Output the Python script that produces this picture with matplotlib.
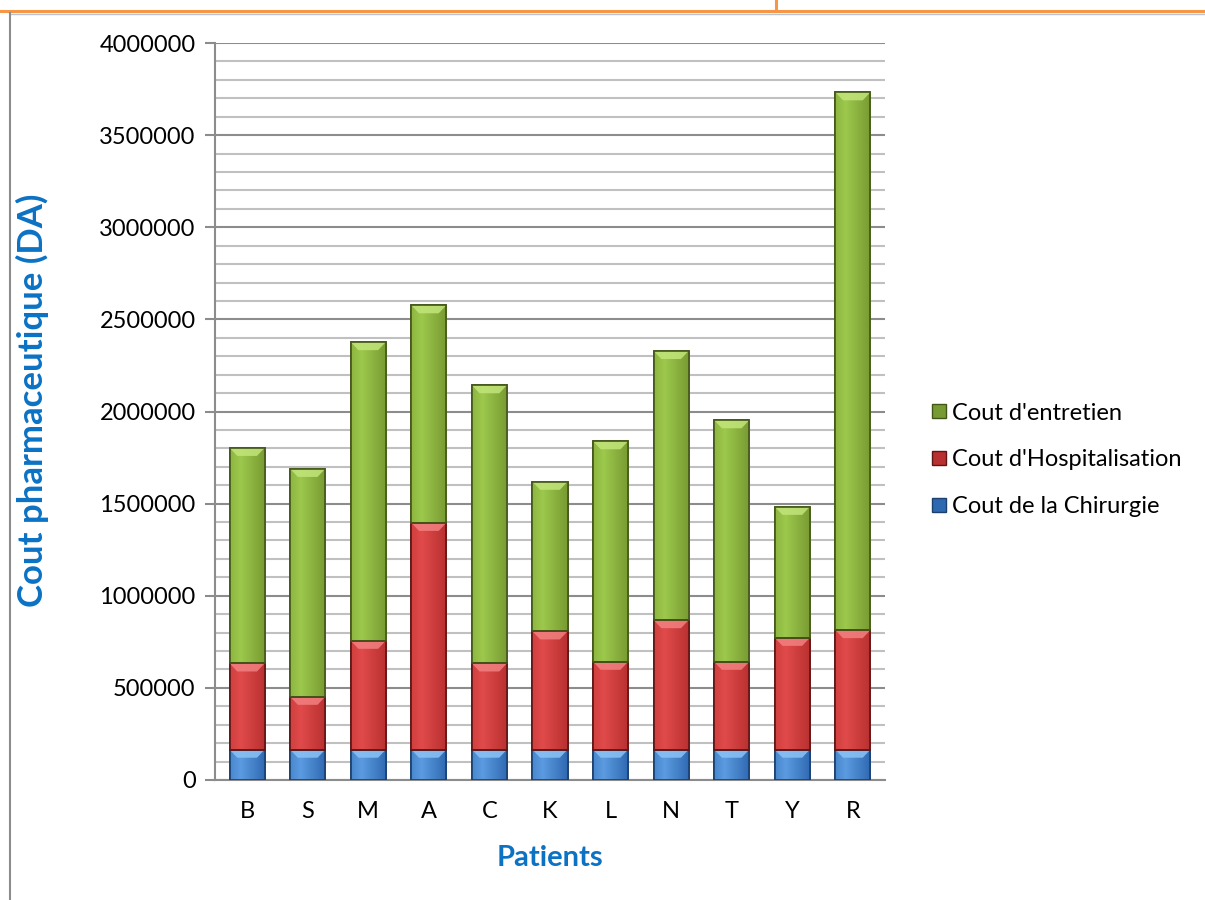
import matplotlib
matplotlib.use("Agg")
import matplotlib.pyplot as plt
import numpy as np
from matplotlib.patches import Polygon
from matplotlib.lines import Line2D
from matplotlib.colors import to_rgb

# ---- data ----
patients = ["B", "S", "M", "A", "C", "K", "L", "N", "T", "Y", "R"]
chirurgie = [165000, 165000, 165000, 165000, 165000, 165000, 165000, 165000, 165000, 165000, 165000]
hospitalisation = [468000, 287000, 591000, 1231000, 468000, 642000, 477000, 703000, 477000, 607000, 649000]
entretien = [1170000, 1237000, 1621000, 1181000, 1510000, 812000, 1197000, 1461000, 1311000, 711000, 2919000]
series_names = ["Cout de la Chirurgie", "Cout d'Hospitalisation", "Cout d'entretien"]
yticks = [0, 500000, 1000000, 1500000, 2000000, 2500000, 3000000, 3500000, 4000000]

# ---- style ----
plt.rcParams['font.family'] = ['Lato', 'DejaVu Sans']
colors = {
    "Cout de la Chirurgie": ("#5B9BE0", "#2E68B0", "#1B3F6E", "#8CC3F5"),
    "Cout d'Hospitalisation": ("#E04A4A", "#B83030", "#5E1515", "#F28080"),
    "Cout d'entretien": ("#9CC84C", "#789A32", "#43561A", "#C2E57A"),
}
blue_txt = "#0B72C4"

fig = plt.figure(figsize=(12.05, 9), dpi=100)
ax = fig.add_axes([215/1205, 1-780/900, 670/1205, 737/900])

x = np.arange(len(patients))
width = 0.58
bottoms = np.zeros(len(patients))
values = [chirurgie, hospitalisation, entretien]
handles = []
ymax = 4000000
bevel_h = ymax * 0.011

for name, vals in zip(series_names, values):
    light, mid, edge, hi = colors[name]
    bars = ax.bar(x, vals, width, bottom=bottoms, color=mid, edgecolor=edge,
                  linewidth=1.2, zorder=3)
    c1, c2 = np.array(to_rgb(light)), np.array(to_rgb(mid))
    t = np.concatenate([np.linspace(0.6, 1.0, 30), np.linspace(1.0, 0.0, 70)])
    grad = (c2[None, :] * (1 - t[:, None]) + c1[None, :] * t[:, None])[None, :, :]
    for p in bars.patches:
        bx, by, bw, bh = p.get_x(), p.get_y(), p.get_width(), p.get_height()
        im = ax.imshow(grad, extent=[bx, bx + bw, by, by + bh], aspect='auto',
                       zorder=3.1, interpolation='bilinear')
        im.set_clip_path(p)
        inset = bw * 0.22
        poly = Polygon([[bx, by + bh], [bx + bw, by + bh],
                        [bx + bw - inset, by + bh - bevel_h],
                        [bx + inset, by + bh - bevel_h]],
                       closed=True, facecolor=hi, edgecolor='none', alpha=0.85, zorder=3.2)
        ax.add_patch(poly)
        ax.add_patch(plt.Rectangle((bx, by), bw, bh, fill=False, edgecolor=edge,
                                   linewidth=1.2, zorder=3.3))
    bottoms = bottoms + np.array(vals)
    handles.append((name, mid))

ax.set_xlim(-0.53, len(patients) - 0.47)
ax.set_ylim(0, ymax)
ax.set_yticks(yticks)
ax.set_yticklabels([str(v) for v in yticks])
ax.set_yticks(np.arange(0, ymax + 1, 100000), minor=True)
ax.set_xticks(x)
ax.set_xticklabels(patients)

ax.grid(axis='y', which='minor', color='#C0C0C0', linewidth=1.5, zorder=0)
ax.grid(axis='y', which='major', color='#8C8C8C', linewidth=1.5, zorder=0.5)
ax.grid(axis='x', visible=False)
ax.set_axisbelow(True)

for s in ['top', 'right']:
    ax.spines[s].set_visible(False)
for s in ['left', 'bottom']:
    ax.spines[s].set_color('#8C8C8C')
    ax.spines[s].set_linewidth(1.5)

ax.tick_params(axis='y', which='major', length=7, width=1.5, color='#8C8C8C',
               labelsize=17, pad=7, direction='out')
ax.tick_params(axis='y', which='minor', length=0)
ax.tick_params(axis='x', which='major', length=0, labelsize=17, pad=15)

fig.text(32/1205, 1-400/900, "Cout pharmaceutique (DA)", rotation=90, fontsize=25,
         fontweight='bold', color=blue_txt, ha='center', va='center')
fig.text(550/1205, 1-858/900, "Patients", fontsize=21, fontweight='bold',
         color=blue_txt, ha='center', va='center')

# legend
leg_handles = []
for name, col in reversed(handles):
    leg_handles.append(Line2D([0], [0], marker='s', linestyle='none', markersize=10,
                              markerfacecolor=col, markeredgecolor=colors[name][2],
                              label=name))
leg = fig.legend(handles=leg_handles, loc='center left',
                 bbox_to_anchor=(918/1205, 1-460/900), frameon=False,
                 fontsize=17, handletextpad=0.05, labelspacing=1.1,
                 handlelength=1.0, borderaxespad=0)

# page decorations
fig.add_artist(Line2D([0, 1], [1-11/900, 1-11/900], color='#F79646', linewidth=2.2,
                      transform=fig.transFigure))
fig.add_artist(Line2D([776/1205, 776/1205], [1, 1-11/900], color='#F79646', linewidth=2.2,
                      transform=fig.transFigure))
fig.add_artist(Line2D([10/1205, 1], [1-13.5/900, 1-13.5/900], color='#B8C4D0', linewidth=1.0,
                      transform=fig.transFigure))
fig.add_artist(Line2D([10/1205, 10/1205], [0, 1-13/900], color='#8C8C8C', linewidth=1.5,
                      transform=fig.transFigure))

fig.savefig("out.png", dpi=100)
